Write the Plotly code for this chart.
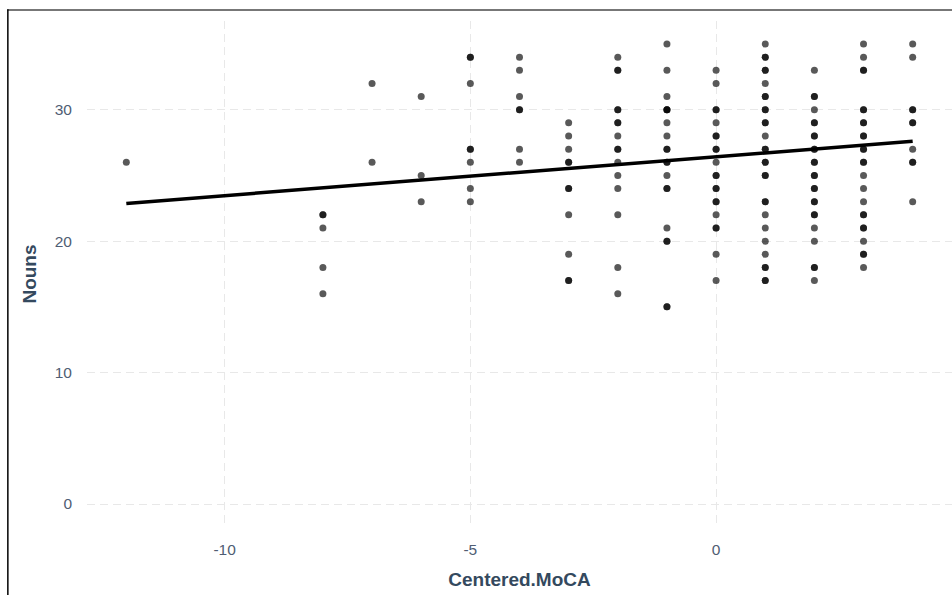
import plotly.graph_objects as go

# Observed points per Centered.MoCA value (Nouns values; repeats = overplotted points)
moca_levels = [-12, -8, -7, -6, -5, -4, -3, -2, -1, 0, 1, 2, 3, 4]
nouns_m12 = [26]
nouns_m8 = [22, 22, 21, 18, 16]
nouns_m7 = [32, 26]
nouns_m6 = [31, 25, 23]
nouns_m5 = [34, 34, 32, 27, 27, 26, 24, 23]
nouns_m4 = [34, 33, 31, 30, 30, 27, 26]
nouns_m3 = [29, 28, 27, 26, 26, 24, 24, 22, 19, 17, 17]
nouns_m2 = [34, 33, 33, 30, 30, 29, 29, 28, 27, 27, 26, 25, 24, 22, 18, 16]
nouns_m1 = [35, 33, 31, 30, 30, 30, 29, 28, 27, 27, 26, 26, 25, 24, 24, 21, 20, 20, 15, 15]
nouns_0 = [33, 32, 30, 30, 29, 28, 28, 27, 27, 26, 25, 25, 24, 24, 23, 23, 22, 21, 21, 19, 17]
nouns_p1 = [35, 34, 34, 33, 33, 32, 31, 31, 30, 30, 29, 29, 28, 27, 27, 26, 26, 25, 25,
            23, 23, 22, 21, 20, 19, 18, 18, 17, 17]
nouns_p2 = [33, 31, 31, 30, 29, 29, 28, 28, 27, 27, 26, 26, 25, 25, 24, 24, 23, 23, 22, 22,
            21, 20, 18, 18, 17]
nouns_p3 = [35, 34, 33, 33, 30, 30, 29, 29, 28, 28, 27, 27, 26, 26, 25, 24, 23, 22, 22,
            21, 21, 20, 19, 19, 18]
nouns_p4 = [35, 34, 30, 30, 29, 29, 27, 26, 26, 23]

columns = [nouns_m12, nouns_m8, nouns_m7, nouns_m6, nouns_m5, nouns_m4, nouns_m3,
           nouns_m2, nouns_m1, nouns_0, nouns_p1, nouns_p2, nouns_p3, nouns_p4]

# Linear fit line
fit_x = [-12, 4]
fit_y = [22.87, 27.6]

x_ticks = [-10, -5, 0]
y_ticks = [0, 10, 20, 30]

moca = []
nouns = []
for lvl, col in zip(moca_levels, columns):
    moca += [lvl] * len(col)
    nouns += col

fig = go.Figure()
fig.add_trace(go.Scatter(
    x=moca, y=nouns, mode="markers",
    marker=dict(color="black", size=7, opacity=0.65, line=dict(width=0)),
    showlegend=False, hoverinfo="skip"))
fig.add_trace(go.Scatter(
    x=fit_x, y=fit_y, mode="lines",
    line=dict(color="black", width=3.5),
    showlegend=False, hoverinfo="skip"))

tick_font = dict(family="Liberation Sans, Arial, sans-serif", size=15.5, color="#4f5d73")
title_font = dict(family="Liberation Sans, Arial, sans-serif", size=19, color="#34495e")

fig.update_layout(
    width=952, height=595,
    margin=dict(l=87, r=0, t=21, b=68),
    paper_bgcolor="white", plot_bgcolor="white",
    xaxis=dict(
        range=[-12.8, 4.8], tickvals=x_ticks, ticktext=[str(v) for v in x_ticks],
        showgrid=True, gridcolor="#e8e8e8", griddash="8px,5px", gridwidth=1.3,
        zeroline=False, showline=False, ticks="", tickfont=tick_font,
        ticklabelstandoff=11,
        title=dict(text="<b>Centered.MoCA</b>", font=title_font, standoff=16)),
    yaxis=dict(
        range=[-1.75, 36.75], tickvals=y_ticks, ticktext=[str(v) for v in y_ticks],
        showgrid=True, gridcolor="#e8e8e8", griddash="8px,5px", gridwidth=1.3,
        zeroline=False, showline=False, ticks="", tickfont=tick_font,
        ticklabelstandoff=14,
        title=dict(text="<b>Nouns</b>", font=title_font, standoff=13)),
    shapes=[
        dict(type="line", xref="paper", yref="paper", x0=-0.092, x1=1.01, y0=1.0215, y1=1.0215,
             line=dict(color="#777777", width=2)),
        dict(type="line", xref="paper", yref="paper", x0=-0.0915, x1=-0.0915, y0=1.023, y1=-0.14,
             line=dict(color="black", width=1.5)),
    ],
)

fig.write_html("out.html")
